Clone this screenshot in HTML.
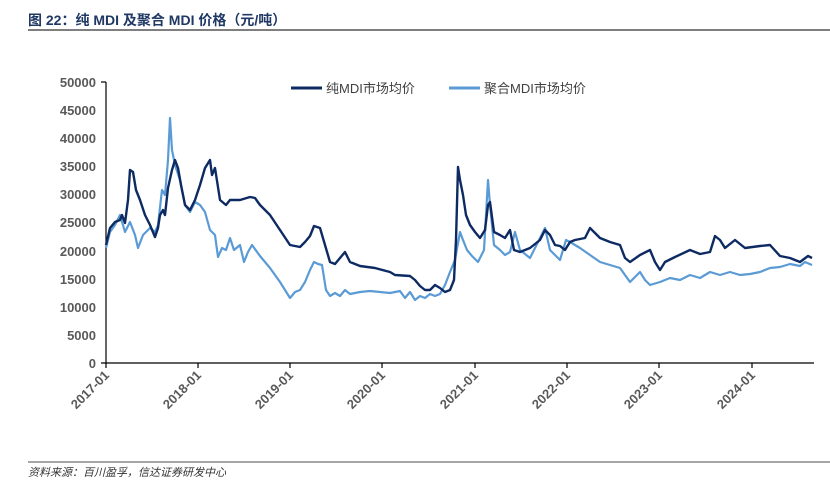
<!DOCTYPE html>
<html><head><meta charset="utf-8"><style>
body{margin:0;background:#fff;width:830px;height:490px;overflow:hidden}
svg text{font-family:"Liberation Sans","Noto Sans CJK SC",sans-serif}
</style></head><body>
<svg width="830" height="490" viewBox="0 0 830 490" xmlns="http://www.w3.org/2000/svg">
<text x="28" y="25" font-size="14" font-weight="bold" fill="#1f3864">图 22：纯 MDI 及聚合 MDI 价格（元/吨）</text>
<line x1="28" y1="30" x2="830" y2="30" stroke="#333" stroke-width="1.2"/>
<g font-size="13" font-weight="bold" fill="#595959" text-anchor="end">
<text x="96" y="368">0</text><text x="96" y="340">5000</text><text x="96" y="312">10000</text><text x="96" y="284">15000</text><text x="96" y="256">20000</text><text x="96" y="227">25000</text><text x="96" y="199">30000</text><text x="96" y="171">35000</text><text x="96" y="143">40000</text><text x="96" y="115">45000</text><text x="96" y="87">50000</text>
</g>
<g stroke="#000" stroke-width="1.2">
<line x1="106" y1="82" x2="106" y2="364"/><line x1="101" y1="82" x2="106" y2="82"/>
<line x1="101" y1="363" x2="814" y2="363"/>
<line x1="106" y1="363" x2="106" y2="368"/><line x1="198" y1="363" x2="198" y2="368"/><line x1="290" y1="363" x2="290" y2="368"/><line x1="382" y1="363" x2="382" y2="368"/><line x1="475" y1="363" x2="475" y2="368"/><line x1="567" y1="363" x2="567" y2="368"/><line x1="659" y1="363" x2="659" y2="368"/><line x1="752" y1="363" x2="752" y2="368"/>
</g>
<g font-size="13" font-weight="bold" fill="#595959" text-anchor="end">
<text transform="translate(110,376) rotate(-45)">2017-01</text>
<text transform="translate(202,376) rotate(-45)">2018-01</text>
<text transform="translate(294,376) rotate(-45)">2019-01</text>
<text transform="translate(386,376) rotate(-45)">2020-01</text>
<text transform="translate(479,376) rotate(-45)">2021-01</text>
<text transform="translate(571,376) rotate(-45)">2022-01</text>
<text transform="translate(663,376) rotate(-45)">2023-01</text>
<text transform="translate(756,376) rotate(-45)">2024-01</text>
</g>
<line x1="291" y1="88" x2="322" y2="88" stroke="#0d2a62" stroke-width="3"/>
<text x="326" y="93" font-size="13" fill="#404040">纯MDI市场均价</text>
<line x1="449" y1="88" x2="480" y2="88" stroke="#5b9bd5" stroke-width="3"/>
<text x="484" y="93" font-size="13" fill="#404040">聚合MDI市场均价</text>
<polyline fill="none" stroke="#5b9bd5" stroke-width="2.2" stroke-linejoin="round" points="106,248 110,232 115,225 120,215 125,232 130,222 135,235 138,248 143,235 150,228 155,232 158,225 162,190 165,195 168,160 170,118 172,150 175,165 180,180 185,205 190,212 195,202 200,205 205,212 210,230 215,235 218,257 222,248 226,250 230,238 234,250 240,245 244,262 248,252 252,245 260,256 270,268 280,282 290,298 295,292 300,290 305,282 310,270 314,262 318,264 322,265 326,290 330,296 335,293 340,296 345,290 350,294 360,292 370,291 380,292 390,293 400,291 405,298 410,292 415,300 420,296 425,298 430,294 435,296 440,294 445,285 450,272 455,260 460,232 463,240 467,250 472,256 478,262 484,250 488,180 490,205 494,245 500,250 505,255 510,252 515,232 520,250 530,258 540,238 545,228 550,250 555,255 560,260 566,240 570,242 580,248 590,255 600,262 610,265 620,268 630,282 640,272 645,280 650,285 660,282 670,278 680,280 690,275 700,278 710,272 720,275 730,272 740,275 750,274 760,272 770,268 780,267 790,264 800,266 805,262 812,265"/>
<polyline fill="none" stroke="#0d2a62" stroke-width="2.4" stroke-linejoin="round" points="106,245 110,228 115,222 120,220 122,215 125,223 128,200 130,170 133,172 136,190 140,200 145,215 150,225 155,237 158,228 160,215 163,210 165,215 168,188 172,170 175,160 178,168 181,185 185,205 190,210 195,200 200,185 205,168 210,160 212,175 215,168 220,200 226,205 230,200 240,200 250,197 255,198 260,205 270,215 280,230 290,245 300,247 305,242 310,236 314,226 320,228 325,245 330,262 335,264 340,258 345,252 350,262 360,266 375,268 390,272 395,275 410,276 415,280 420,286 425,290 430,290 435,285 440,288 445,292 450,290 454,280 456,240 458,167 460,180 463,195 466,215 470,225 475,232 480,238 485,230 488,205 490,202 494,232 500,235 505,238 510,230 514,250 520,252 530,248 540,240 545,230 550,235 555,245 560,246 565,250 570,242 575,240 585,238 590,228 600,238 610,242 620,245 625,258 630,262 640,255 650,250 655,262 660,270 665,262 675,257 690,250 700,254 710,252 715,236 720,240 725,248 735,240 745,248 760,246 770,245 780,256 790,258 800,262 808,256 812,258"/>
<line x1="28" y1="462" x2="830" y2="462" stroke="#888" stroke-width="1.5"/>
<text x="28" y="476" font-size="11" font-style="italic" fill="#333">资料来源：百川盈孚，信达证券研发中心</text>
</svg>
</body></html>
